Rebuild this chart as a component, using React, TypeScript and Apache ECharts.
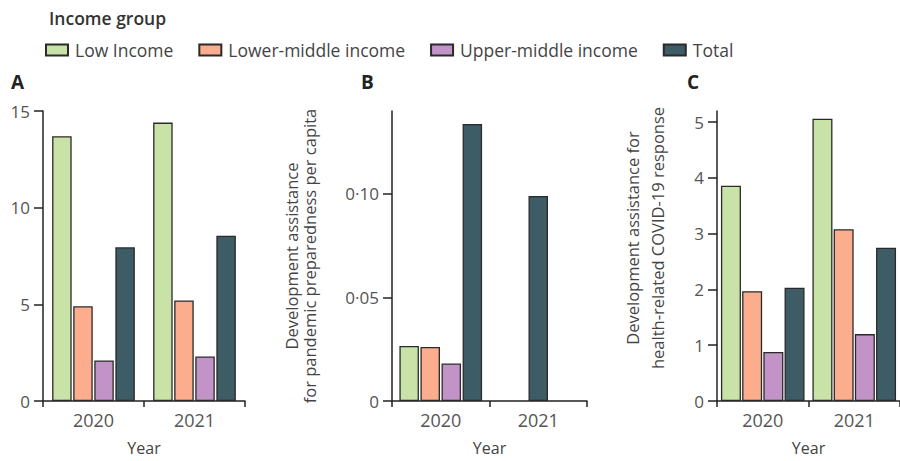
import React, { useEffect, useRef } from "react";
import * as echarts from "echarts";

const years = ["2020", "2021"];
const groups = ["Low Income", "Lower-middle income", "Upper-middle income", "Total"];
const colors = ["#c8e2a8", "#fbad8e", "#c293c6", "#3d5c66"];

// Panel A
const panelA = [
  [13.7, 14.4],
  [4.9, 5.2],
  [2.1, 2.3],
  [7.95, 8.55],
];
// Panel B (2021 only Total)
const panelB = [
  [0.0266, null],
  [0.0261, null],
  [0.0181, null],
  [0.1337, null],
];
const panelB2021Total = [null, 0.099];
// Panel C
const panelC = [
  [3.86, 5.06],
  [1.97, 3.08],
  [0.88, 1.2],
  [2.03, 2.75],
];

const yTicksA = [0, 5, 10, 15];
const yTicksB = [0, 0.05, 0.1];
const yTicksC = [0, 1, 2, 3, 4, 5];

const FONT = "Open Sans";
const BORDER = "#2a2a2a";

export default function App() {
  const ref = useRef<HTMLDivElement>(null);
  useEffect(() => {
    if (!ref.current) return;
    const chart = echarts.init(ref.current, undefined, { renderer: "svg" });

    const xAxisBase = (gridIndex: number, show = true) => ({
      type: "category",
      gridIndex,
      data: years,
      show,
      axisLine: { show: true, lineStyle: { color: "#222", width: 1.5 } },
      axisTick: { show: true, length: 6, interval: 0, alignWithLabel: false, lineStyle: { color: "#222", width: 1.5 } },
      axisLabel: { fontSize: 18, color: "#555", margin: 10, fontFamily: FONT },
      name: "Year",
      nameLocation: "middle",
      nameGap: 39,
      nameTextStyle: { fontSize: 16, color: "#444", fontFamily: FONT },
    });

    const yAxisBase = (gridIndex: number, max: number, ticks: number[], extra: any = {}) => ({
      type: "value",
      gridIndex,
      min: 0,
      max,
      axisLine: { show: true, lineStyle: { color: "#222", width: 1.5 } },
      axisTick: { show: true, length: 9, customValues: ticks, lineStyle: { color: "#222", width: 1.5 } },
      axisLabel: { fontSize: 17, color: "#555", margin: 13, fontFamily: FONT, customValues: ticks },
      splitLine: { show: false },
      ...extra,
    });

    const barStyle = (i: number) => ({
      color: colors[i],
      borderColor: BORDER,
      borderWidth: 1.3,
    });

    const series: any[] = [];
    groups.forEach((g, i) => {
      series.push({
        type: "bar",
        name: g,
        xAxisIndex: 0,
        yAxisIndex: 0,
        data: panelA[i],
        barWidth: 19.5,
        barGap: "8%",
        itemStyle: barStyle(i),
      });
    });
    groups.forEach((g, i) => {
      series.push({
        type: "bar",
        name: g,
        xAxisIndex: 1,
        yAxisIndex: 1,
        data: panelB[i],
        barWidth: 19.5,
        barGap: "8%",
        itemStyle: barStyle(i),
      });
    });
    series.push({
      type: "bar",
      name: "Total",
      xAxisIndex: 3,
      yAxisIndex: 1,
      data: panelB2021Total,
      barWidth: 19.5,
      itemStyle: barStyle(3),
    });
    groups.forEach((g, i) => {
      series.push({
        type: "bar",
        name: g,
        xAxisIndex: 2,
        yAxisIndex: 2,
        data: panelC[i],
        barWidth: 20,
        barGap: "6%",
        itemStyle: barStyle(i),
      });
    });

    const fmtB = (v: number) => (v === 0 ? "0" : v.toFixed(2).replace(".", "·"));

    chart.setOption({
      animation: false,
      backgroundColor: "#fff",
      textStyle: { fontFamily: FONT },
      legend: {
        data: groups,
        left: 45,
        top: 41,
        padding: 0,
        itemWidth: 22,
        itemHeight: 11,
        itemGap: 25,
        icon: "rect",
        selectedMode: false,
        textStyle: { fontSize: 17.5, color: "#444", fontFamily: FONT, padding: [0, 0, 0, 2] },
      },
      grid: [
        { left: 43, top: 111, width: 202, height: 291 },
        { left: 392, top: 111, width: 195, height: 291 },
        { left: 717, top: 111, width: 203, height: 291 },
      ],
      xAxis: [xAxisBase(0), xAxisBase(1), xAxisBase(2), { ...xAxisBase(1), show: false, name: "" }],
      yAxis: [
        yAxisBase(0, 15, yTicksA),
        yAxisBase(1, 0.14, yTicksB, {
          axisLabel: { fontSize: 17, color: "#555", margin: 13, fontFamily: FONT, customValues: yTicksB, formatter: fmtB },
          name: "Development assistance\nfor pandemic preparedness per capita",
          nameLocation: "middle",
          nameGap: 74,
          nameTextStyle: { fontSize: 16.5, lineHeight: 17.5, color: "#444", fontFamily: FONT },
        }),
        yAxisBase(2, 5.2, yTicksC, {
          name: "Development assistance for\nhealth-related COVID-19 response",
          nameLocation: "middle",
          nameGap: 47,
          nameTextStyle: { fontSize: 16.5, lineHeight: 25, color: "#444", fontFamily: FONT, padding: [0, 0, 0, 36] },
        }),
      ],
      graphic: [
        { type: "text", left: 49, top: 9, style: { text: "Income group", fontSize: 17.5, fontWeight: 600, fill: "#333", fontFamily: FONT } },
        { type: "text", left: 11, top: 72, style: { text: "A", fontSize: 19, fontWeight: "bold", fill: "#222", fontFamily: FONT } },
        { type: "text", left: 361, top: 72, style: { text: "B", fontSize: 19, fontWeight: "bold", fill: "#222", fontFamily: FONT } },
        { type: "text", left: 687, top: 72, style: { text: "C", fontSize: 19, fontWeight: "bold", fill: "#222", fontFamily: FONT } },
      ],
      series,
    });
    return () => chart.dispose();
  }, []);
  return <div ref={ref} style={{ position: "absolute", left: 0, top: 0, width: 900, height: 461 }} />;
}
